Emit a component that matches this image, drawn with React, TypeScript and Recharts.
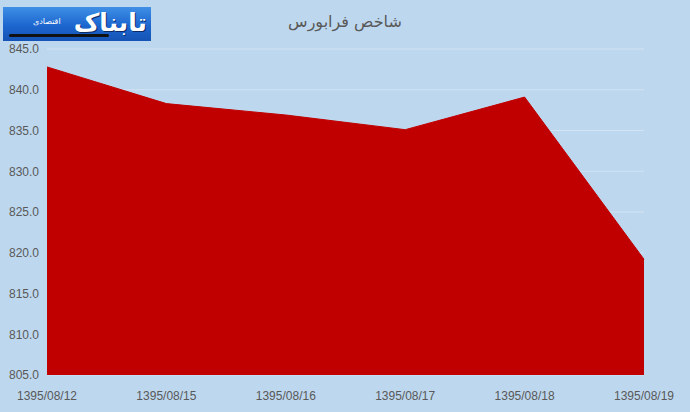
import { Area, AreaChart, CartesianGrid, XAxis, YAxis } from "recharts";

const dates = ["1395/08/12", "1395/08/15", "1395/08/16", "1395/08/17", "1395/08/18", "1395/08/19"];
const indexValues = [842.8, 838.3, 836.9, 835.1, 839.1, 819.2];
const yTicks = [805, 810, 815, 820, 825, 830, 835, 840, 845];

const data = dates.map((d, i) => ({ date: d, value: indexValues[i] }));

const BG = "#bdd7ee";
const TEXT = "#595959";

function Logo() {
  return (
    <div
      style={{
        position: "absolute",
        left: 3,
        top: 7,
        width: 148,
        height: 34,
        background: "linear-gradient(180deg, #3f8fe6 0%, #1c66cf 55%, #1553b4 100%)",
        overflow: "hidden",
      }}
    >
      {/* black swash under the name */}
      <div
        style={{
          position: "absolute",
          left: 6,
          top: 27,
          width: 100,
          height: 3,
          background: "#111111",
          borderRadius: 2,
        }}
      />
      <div
        style={{
          position: "absolute",
          right: 4,
          top: 1,
          lineHeight: "30px",
          fontFamily: "DejaVu Sans",
          fontWeight: "bold",
          fontSize: 25,
          color: "#ffffff",
          direction: "rtl",
          textShadow: "1px 1px 0 #0b2a66",
        }}
      >
        تابناک
      </div>
      <div
        style={{
          position: "absolute",
          left: 30,
          top: 9,
          lineHeight: "12px",
          fontFamily: "DejaVu Sans",
          fontSize: 8,
          color: "#ffffff",
          direction: "rtl",
        }}
      >
        اقتصادی
      </div>
    </div>
  );
}

export default function App() {
  return (
    <div style={{ position: "fixed", left: 0, top: 0, width: 690, height: 412, background: BG }}>
      <AreaChart
        width={690}
        height={412}
        data={data}
        margin={{ top: 49, right: 46, bottom: 7, left: 0 }}
      >
        <CartesianGrid vertical={false} stroke="#d2e3f3" strokeWidth={1} />
        <XAxis
          dataKey="date"
          height={30}
          axisLine={false}
          tickLine={false}
          tickMargin={10}
          interval={0}
          tick={{ fontSize: 12, fill: TEXT, fontFamily: "Liberation Sans" }}
        />
        <YAxis
          width={47}
          domain={[805, 845]}
          ticks={yTicks}
          axisLine={false}
          tickLine={false}
          tickFormatter={(v: number) => v.toFixed(1)}
          tick={{ fontSize: 12, fill: TEXT, fontFamily: "Liberation Sans" }}
        />
        <Area
          type="linear"
          dataKey="value"
          baseValue={805}
          fill="#c00000"
          fillOpacity={1}
          stroke="#c00000"
          strokeWidth={1}
          isAnimationActive={false}
        />
      </AreaChart>
      <div
        style={{
          position: "absolute",
          left: 0,
          width: 690,
          top: 12,
          textAlign: "center",
          fontFamily: "DejaVu Sans",
          fontSize: 16,
          color: TEXT,
          direction: "rtl",
        }}
      >
        شاخص فرابورس
      </div>
      <Logo />
    </div>
  );
}
